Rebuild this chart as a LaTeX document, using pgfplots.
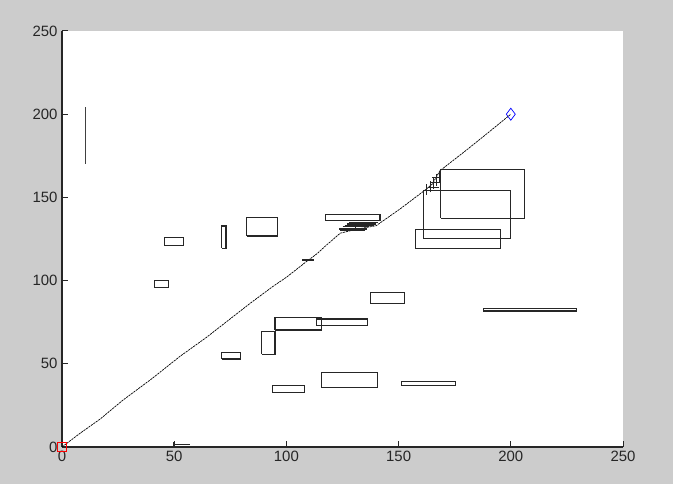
\documentclass[border=0pt]{standalone}
\usepackage{fontspec}
\setmainfont{Liberation Sans}
\usepackage{pgfplots}
\pgfplotsset{compat=1.18}
\definecolor{mlgray}{RGB}{204,204,204}
\begin{document}
\begin{tikzpicture}
\fill[mlgray] (0,0) rectangle (673bp,484bp);
\begin{axis}[
  at={(62bp,37bp)}, anchor=south west,
  scale only axis, width=561bp, height=416bp,
  xmin=0, xmax=250, ymin=0, ymax=250,
  axis x line*=bottom, axis y line*=left,
  axis line style={-, line width=1.1bp, black!85},
  axis background/.style={fill=white},
  xtick={0,50,100,150,200,250}, ytick={0,50,100,150,200,250},
  tick align=inside, major tick length=6bp,
  tick style={line width=1bp, black!85},
  ticklabel style={font=\fontsize{15}{15}\selectfont, text=black!85},
  /pgf/number format/assume math mode=true,
  xticklabel style={yshift=-1bp},
  yticklabel style={xshift=-1bp},
  clip=false,
  rect/.style={black!85, line width=1.1bp, no marks},
]
% diagonal path
\addplot[black, line width=0.7bp, dash pattern=on 2.2bp off 0.8bp, no marks] coordinates {
(0,0)(8,8.2)(17,16.8)(27,28)(40,41)(52.6,54.5)(64,65.5)(74,76)(84,86.5)(94,96.5)(100,102)(109,111.5)(113.5,116)(118,121.5)(124,128.5)(131,130.8)(140,133)(150.6,143)(161.8,154.4)(165,158)(168.4,166)(180.3,178.5)(190,189)(200,200)};
% vertical line
\addplot[black!75, line width=0.8bp, no marks] coordinates {(10.3,170.3)(10.3,204.3)};
% rectangles
\addplot[rect] coordinates {(45.5,121.2)(54.3,121.2)(54.3,125.8)(45.5,125.8)(45.5,121.2)};
\addplot[rect] coordinates {(71.2,119.4)(73.1,119.4)(73.1,132.8)(71.2,132.8)(71.2,119.4)};
\addplot[rect] coordinates {(82.3,126.8)(96.1,126.8)(96.1,138.0)(82.3,138.0)(82.3,126.8)};
\addplot[rect] coordinates {(117.5,136.0)(141.7,136.0)(141.7,139.6)(117.5,139.6)(117.5,136.0)};
\addplot[rect] coordinates {(41.4,95.6)(47.4,95.6)(47.4,100.2)(41.4,100.2)(41.4,95.6)};
\addplot[rect] coordinates {(168.8,137.4)(206.3,137.4)(206.3,166.5)(168.8,166.5)(168.8,137.4)};
\addplot[rect] coordinates {(161.0,125.2)(199.9,125.2)(199.9,154.0)(161.0,154.0)(161.0,125.2)};
\addplot[rect] coordinates {(157.6,119.2)(195.5,119.2)(195.5,130.8)(157.6,130.8)(157.6,119.2)};
\addplot[rect] coordinates {(137.5,86.1)(152.6,86.1)(152.6,92.9)(137.5,92.9)(137.5,86.1)};
\addplot[rect] coordinates {(187.7,81.7)(229.4,81.7)(229.4,83.5)(187.7,83.5)(187.7,81.7)};
\addplot[rect] coordinates {(94.9,70.3)(115.7,70.3)(115.7,77.9)(94.9,77.9)(94.9,70.3)};
\addplot[rect] coordinates {(113.4,72.9)(136.0,72.9)(136.0,76.9)(113.4,76.9)(113.4,72.9)};
\addplot[rect] coordinates {(89.0,55.7)(94.9,55.7)(94.9,69.3)(89.0,69.3)(89.0,55.7)};
\addplot[rect] coordinates {(71.2,52.9)(79.5,52.9)(79.5,56.7)(71.2,56.7)(71.2,52.9)};
\addplot[rect] coordinates {(94.0,32.7)(107.9,32.7)(107.9,36.7)(94.0,36.7)(94.0,32.7)};
\addplot[rect] coordinates {(115.7,35.5)(140.6,35.5)(140.6,44.7)(115.7,44.7)(115.7,35.5)};
\addplot[rect] coordinates {(151.4,36.8)(175.3,36.8)(175.3,39.2)(151.4,39.2)(151.4,36.8)};
% cluster near (130,132)
\addplot[rect, line width=1.3bp] coordinates {(128,134.8)(141,134.8)};
\addplot[rect, line width=1.3bp] coordinates {(127,134.0)(140,134.0)};
\addplot[rect, line width=1.3bp] coordinates {(126,133.2)(139,133.2)};
\addplot[rect, line width=1.3bp] coordinates {(125,132.4)(137,132.4)};
\addplot[rect, line width=1.1bp] coordinates {(123.5,131.0)(136,131.0)};
\addplot[rect, line width=1.1bp] coordinates {(124,130.2)(135,130.2)};
\addplot[rect, line width=1bp] coordinates {(130.6,130.2)(130.6,134.8)};
% small line near (110,112)
\addplot[rect, line width=1.6bp] coordinates {(107,112.2)(112.5,112.2)};
% cluster near (165,158)
\addplot[rect, line width=0.9bp] coordinates {(162.5,151.5)(162.5,158)};
\addplot[rect, line width=0.9bp] coordinates {(164,153)(164,160)};
\addplot[rect, line width=0.9bp] coordinates {(165.5,155)(165.5,162)};
\addplot[rect, line width=0.9bp] coordinates {(167,157)(167,164)};
\addplot[rect, line width=0.9bp] coordinates {(168.3,159)(168.3,166)};
\addplot[rect, line width=0.9bp] coordinates {(163,156)(168,156)};
\addplot[rect, line width=0.9bp] coordinates {(164,159)(168.5,159)};
\addplot[rect, line width=0.9bp] coordinates {(165,162)(168.5,162)};
% small mark at bottom
\addplot[rect, line width=0.9bp] coordinates {(49.8,0)(49.8,2.8)};
\addplot[rect, line width=0.9bp] coordinates {(49.8,1.8)(57.2,1.8)};
% start and goal markers
\addplot[red, only marks, mark=square, mark size=4.2bp, line width=1bp] coordinates {(0,0)};
\addplot[blue, only marks, mark=diamond, mark size=6bp, line width=0.7bp] coordinates {(200,200)};
\end{axis}
\end{tikzpicture}
\end{document}
